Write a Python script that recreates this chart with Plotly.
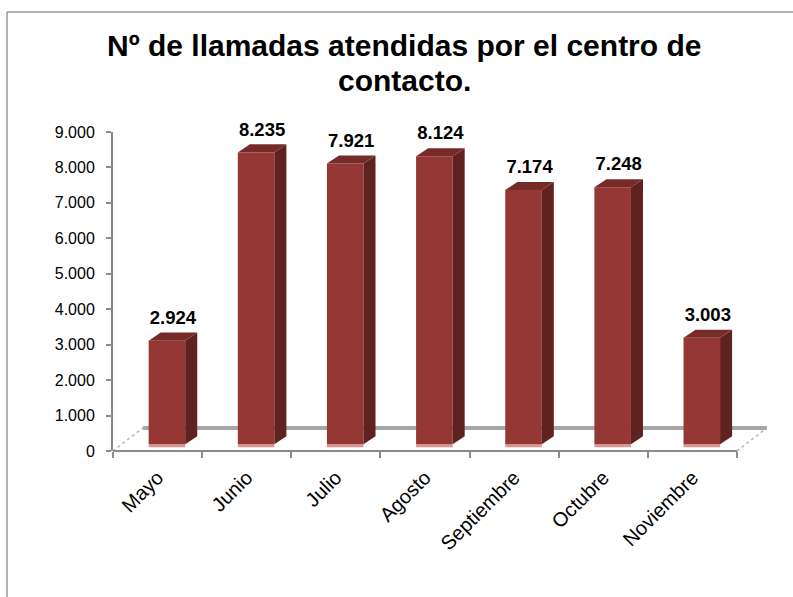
import plotly.graph_objects as go

# ---- data ----
months = ["Mayo", "Junio", "Julio", "Agosto", "Septiembre", "Octubre", "Noviembre"]
llamadas = [2924, 8235, 7921, 8124, 7174, 7248, 3003]
y_ticks = [0, 1000, 2000, 3000, 4000, 5000, 6000, 7000, 8000, 9000]
title_lines = ["Nº de llamadas atendidas por el centro de", "contacto."]

# ---- style / geometry ----
FRONT = "#953735"
SIDE = "#5f2220"
TOP = "#772b29"
PINK = "#d99694"
AXIS = "#8a8a8a"
FONT = "Liberation Sans, Arial, sans-serif"

W, H = 793, 597
L, R, T, B = 113, 770, 132, 451      # plot area in pixels
XMIN, XMAX = -0.5, 6.87
YMIN, YMAX = 0, 9000

BAR_OFF, BAR_W = -0.10, 0.41          # front face relative to category
DDX, DDY = 0.135, 226                  # 3D depth of bars
BASE = 190                             # bars sit slightly behind front edge
STRIP = 85
FDX, FDY = 0.336, 650                  # floor depth

pos = list(range(len(months)))


def px(x):
    return (x - XMIN) / (XMAX - XMIN)


def py(y):
    return (y - YMIN) / (YMAX - YMIN)


def pix_x(p):
    return (p - L) / (R - L)


def pix_y(p):
    return (B - p) / (B - T)


fig = go.Figure()

# pink bottom strip
fig.add_trace(go.Bar(x=pos, y=[STRIP] * len(pos), base=[BASE - STRIP] * len(pos),
                     offset=BAR_OFF, width=BAR_W, marker=dict(color=PINK, line_width=0),
                     hoverinfo="skip", showlegend=False))
# front faces
fig.add_trace(go.Bar(x=pos, y=llamadas, base=[BASE] * len(pos), offset=BAR_OFF, width=BAR_W,
                     marker=dict(color=FRONT, line_width=0), showlegend=False,
                     hovertemplate="%{x}: %{y}<extra></extra>"))

# side & top faces
for p, v in zip(pos, llamadas):
    x0 = p + BAR_OFF
    x1 = x0 + BAR_W
    top = BASE + v
    fig.add_trace(go.Scatter(
        x=[x1, x1 + DDX, x1 + DDX, x1, x1],
        y=[BASE, BASE + DDY, top + DDY, top, BASE],
        fill="toself", fillcolor=SIDE, mode="lines", line=dict(width=0, color=SIDE),
        hoverinfo="skip", showlegend=False))
    fig.add_trace(go.Scatter(
        x=[x0, x0 + DDX, x1 + DDX, x1, x0],
        y=[top, top + DDY, top + DDY, top, top],
        fill="toself", fillcolor=TOP, mode="lines", line=dict(width=0, color=TOP),
        hoverinfo="skip", showlegend=False))

# data labels
lab_x = [p + BAR_OFF + BAR_W / 2 + DDX / 2 for p in pos]
lab_y = [BASE + v + DDY + 120 for v in llamadas]
lab_t = [f"{v:,}".replace(",", ".") for v in llamadas]
fig.add_trace(go.Scatter(x=lab_x, y=lab_y, text=lab_t, mode="text", textposition="top center",
                         textfont=dict(family=FONT, size=18.5, color="black", weight="bold"),
                         cliponaxis=False, hoverinfo="skip", showlegend=False))

shapes = []
# floor back line (behind bars)
shapes.append(dict(type="line", xref="paper", yref="paper", layer="below",
                   x0=px(XMIN + FDX), x1=px(6.5 + FDX), y0=py(FDY), y1=py(FDY),
                   line=dict(color="#a6a6a6", width=4)))
# floor side diagonals
for xa in (XMIN, 6.5):
    shapes.append(dict(type="line", xref="paper", yref="paper", layer="below",
                       x0=px(xa), x1=px(xa + FDX), y0=py(0), y1=py(FDY),
                       line=dict(color="#b5b5b5", width=1.5, dash="dot")))
# front x axis line
shapes.append(dict(type="line", xref="paper", yref="paper", layer="above",
                   x0=px(XMIN), x1=px(6.5), y0=0, y1=0,
                   line=dict(color=AXIS, width=2)))
# outer chart frame (left and top)
fx = pix_x(7)
fy = pix_y(12)
shapes.append(dict(type="line", xref="paper", yref="paper", x0=fx, x1=fx, y0=fy, y1=pix_y(H + 20),
                   line=dict(color="#9a9a9a", width=1.5)))
shapes.append(dict(type="line", xref="paper", yref="paper", x0=fx, x1=pix_x(W + 20), y0=fy, y1=fy,
                   line=dict(color="#9a9a9a", width=1.5)))

# title as two centred lines
annotations = []
for line, yc in zip(title_lines, (45, 80)):
    annotations.append(dict(text=line, xref="paper", yref="paper", x=pix_x(404), y=pix_y(yc),
                            xanchor="center", yanchor="middle", showarrow=False,
                            font=dict(family=FONT, size=30, color="black", weight="bold")))

fig.update_layout(
    width=W, height=H,
    margin=dict(l=L, r=W - R, t=T, b=H - B, pad=0),
    paper_bgcolor="white", plot_bgcolor="rgba(0,0,0,0)",
    separators=",.",
    barmode="overlay",
    showlegend=False,
    shapes=shapes,
    annotations=annotations,
    font=dict(family=FONT, color="black"),
    xaxis=dict(range=[XMIN, XMAX], tickmode="array", tickvals=pos, ticktext=months,
               tickangle=-45, ticks="", showgrid=False, zeroline=False, showline=False,
               tickfont=dict(family=FONT, size=20, color="black"), ticklabelstandoff=10,
               minor=dict(tickmode="linear", tick0=-0.5, dtick=1, ticks="outside",
                          ticklen=6, tickcolor=AXIS, tickwidth=1.5, showgrid=False)),
    yaxis=dict(range=[YMIN, YMAX], tickmode="array", tickvals=y_ticks, tickformat=",d",
               ticks="outside", ticklen=5, tickcolor=AXIS, tickwidth=1.5, ticklabelstandoff=8,
               showline=True, linecolor=AXIS, linewidth=2, showgrid=False, zeroline=False,
               tickfont=dict(family=FONT, size=16, color="black")),
)

fig.write_html("out.html", config={"displayModeBar": False},
               post_script="document.body.style.margin='0';")
